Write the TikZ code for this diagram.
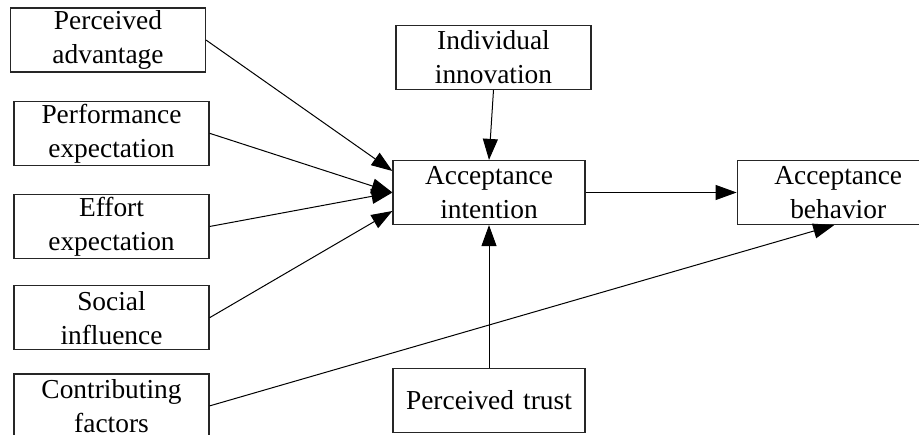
\documentclass[tikz,border=0pt]{standalone}
\usepackage{fontspec}
\setmainfont{Liberation Serif}
\usetikzlibrary{positioning,arrows.meta}
\tikzset{
  factor/.style={draw=black!85, line width=0.6pt, rectangle, align=center,
    text width=90pt, minimum width=97.5pt, minimum height=32pt,
    inner xsep=0pt, inner ysep=1pt,
    font=\fontsize{13.7pt}{17pt}\selectfont},
  edge/.style={line width=0.5pt, -{Triangle[length=10.5pt,width=7.5pt]}}
}
\begin{document}
\begin{tikzpicture}[x=0.5pt,y=0.5pt]
 \useasboundingbox (0,0) rectangle (919,434);
% nodes
 \node[factor] (eff) at (111.5,207.5) {Effort\\expectation};
 \node[factor, above=14pt of eff] (perf) {Performance\\expectation};%
 \node[factor, above=14pt of perf, xshift=-1.75pt] (adv) {Perceived\\advantage};%
 \node[factor, below=13pt of eff] (soc) {Social\\influence};%
 \node[factor, below=11.5pt of soc] (contr) {Contributing\\factors};%

 \node[factor, minimum width=96pt] (intent) at (489,241.5) {Acceptance\\intention};
 \node[factor, above=35pt of intent, xshift=2.25pt] (innov) {Individual\\innovation}; %
 \node[factor, minimum width=96pt, below=71.3pt of intent] (trust) {Perceived trust}; %
 \node[factor, minimum width=101pt, right=75.5pt of intent] (behav) {Acceptance\\behavior}; %

% edges
 \draw[edge] (adv.east) -- ([yshift=10.75pt]intent.west);
 \foreach \src in {perf,eff}
   \draw[edge] (\src.east) -- (intent.west);
 \draw[edge] (soc.east) -- ([yshift=-9.25pt]intent.west);
 \draw[edge] (innov.south) -- (intent.north);
 \draw[edge] (trust.north) -- (intent.south);
 \draw[edge] (intent.east) -- (behav.west);
 \draw[edge] (contr.east) -- ([xshift=-2pt]behav.south);
\end{tikzpicture}
\end{document}
